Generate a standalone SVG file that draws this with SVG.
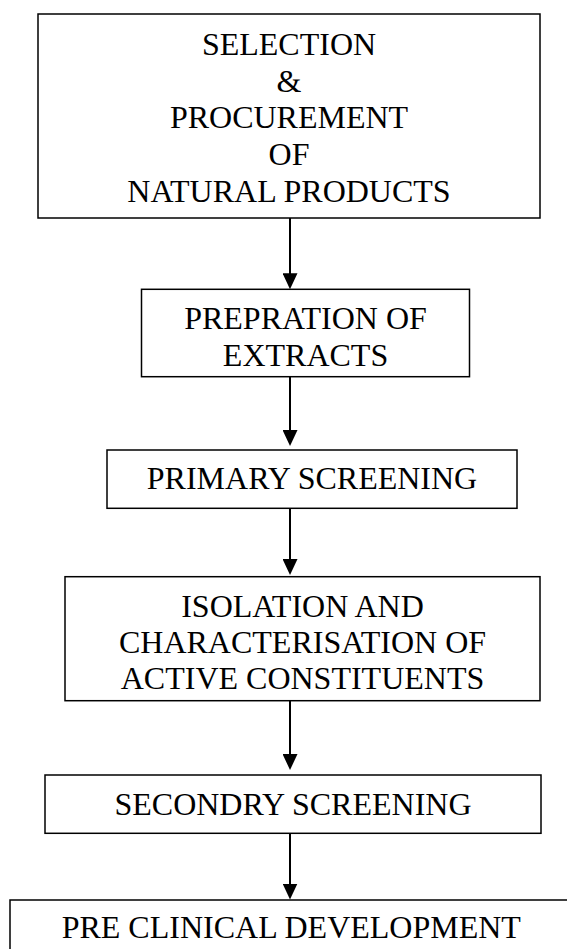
<svg xmlns="http://www.w3.org/2000/svg" width="567" height="949" viewBox="0 0 567 949">
<style>
.box{fill:#fff;stroke:#000;stroke-width:1.5}
.t{font-family:"Liberation Serif","Times New Roman",serif;font-size:32px;fill:#000;text-anchor:middle}
.c{stroke:#000;stroke-width:2;fill:none}
</style>
<defs>
<marker id="ah" markerUnits="userSpaceOnUse" viewBox="0 0 16 15" refX="6" refY="7.5" markerWidth="16" markerHeight="15" orient="auto">
<path d="M0,0 L16,7.5 L0,15 Z" fill="#000"/>
</marker>
</defs>
<rect width="567" height="949" fill="#fff"/>
<g id="connectors">
<line class="c" x1="290" y1="218" x2="290" y2="279.3" marker-end="url(#ah)"/>
<line class="c" x1="290" y1="377" x2="290" y2="436" marker-end="url(#ah)"/>
<line class="c" x1="290" y1="506" x2="290" y2="565" marker-end="url(#ah)"/>
<line class="c" x1="290" y1="700" x2="290" y2="760" marker-end="url(#ah)"/>
<line class="c" x1="290" y1="830" x2="290" y2="889.5" marker-end="url(#ah)"/>
</g>
<g id="node1">
<rect class="box" x="38" y="14" width="502" height="204"/>
<text class="t" x="289" y="55">SELECTION</text>
<text class="t" x="289" y="91.7">&amp;</text>
<text class="t" x="289" y="128.4">PROCUREMENT</text>
<text class="t" x="289" y="165.1">OF</text>
<text class="t" x="289" y="201.8">NATURAL PRODUCTS</text>
</g>
<g id="node2">
<rect class="box" x="141.5" y="289.3" width="328" height="87.4"/>
<text class="t" x="305.5" y="329.3">PREPRATION OF</text>
<text class="t" x="305.5" y="366">EXTRACTS</text>
</g>
<g id="node3">
<rect class="box" x="107" y="450" width="410" height="58.3"/>
<text class="t" x="312" y="489.3">PRIMARY SCREENING</text>
</g>
<g id="node4">
<rect class="box" x="65" y="576.7" width="475" height="124"/>
<text class="t" x="302.5" y="616.7">ISOLATION AND</text>
<text class="t" x="302.5" y="653.3">CHARACTERISATION OF</text>
<text class="t" x="302.5" y="689.3">ACTIVE CONSTITUENTS</text>
</g>
<g id="node5">
<rect class="box" x="45" y="775" width="496" height="58.3"/>
<text class="t" x="293" y="815">SECONDRY SCREENING</text>
</g>
<g id="node6">
<rect class="box" x="10" y="900" width="563" height="80"/>
<text class="t" x="291.3" y="938">PRE CLINICAL DEVELOPMENT</text>
</g>
</svg>
